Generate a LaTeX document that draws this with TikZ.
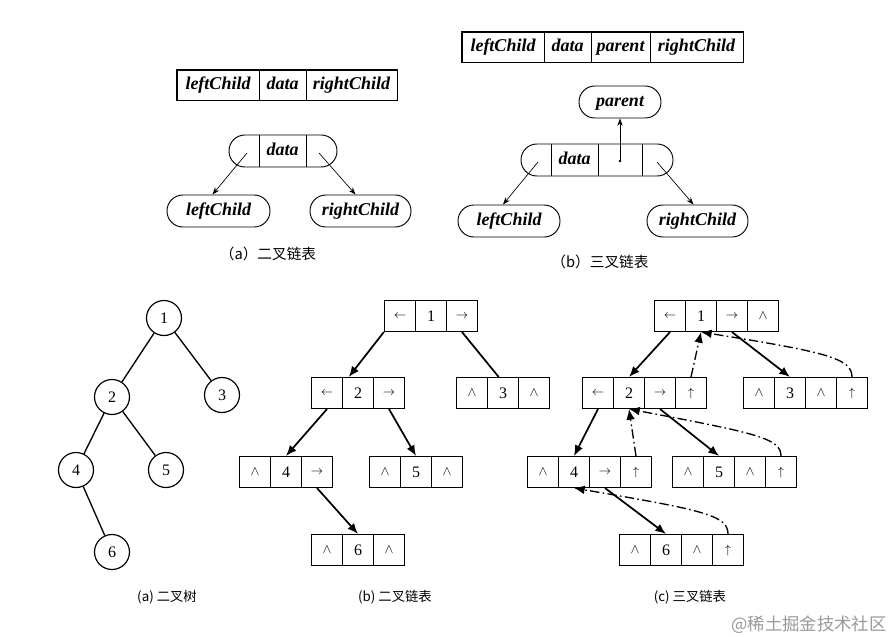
\documentclass[tikz,border=0pt]{standalone}
\usepackage{fontspec}
\setmainfont{Liberation Serif}
\newfontfamily\cjk{Noto Sans CJK SC}
\usetikzlibrary{arrows.meta,calc}
\newcommand{\symL}{{\fontsize{9}{10}\selectfont$\boldsymbol{\leftarrow}$}}
\newcommand{\symR}{{\fontsize{9}{10}\selectfont$\rightarrow$}}
\newcommand{\symN}{{\fontsize{10}{11}\selectfont$\wedge$}}
\newcommand{\symU}{{\fontsize{9}{10}\selectfont$\uparrow$}}
\renewcommand{\symL}{{\fontsize{9}{10}\selectfont$\leftarrow$}}
\begin{document}
\begin{tikzpicture}[x=0.75pt,y=-0.75pt,
  itxt/.style={font=\fontsize{13.5}{16}\selectfont\bfseries\itshape, text height=10pt, text depth=3pt},
  reccell/.style={draw, line width=0.7pt, minimum height=30*0.75pt, inner sep=0pt, itxt},
  capsule/.style={draw, rectangle, rounded corners=11.9pt, line width=0.7pt, minimum height=32*0.75pt, inner sep=0pt, itxt},
  captxt/.style={inner sep=0pt, font=\cjk\fontsize{11}{13}\selectfont},
  lcell/.style={draw, line width=0.8pt, minimum width=31.2*0.75pt, minimum height=31*0.75pt, inner sep=0pt, font=\fontsize{12}{14}\selectfont},
  tcirc/.style={draw, circle, line width=0.9pt, minimum size=35*0.75pt, inner sep=0pt, font=\fontsize{12}{14}\selectfont},
  thinarrow/.style={line width=0.5pt, -{Stealth[length=5.5pt,width=4pt]}},
  ptr/.style={line width=1.3pt, -{Latex[length=8pt,width=6.5pt]}},
  parentptr/.style={line width=1pt, dash pattern=on 7pt off 2.5pt on 1.2pt off 2.5pt, -{Latex[length=8pt,width=6.5pt]}},
  edge/.style={line width=1pt}
]
\useasboundingbox (0,0) rectangle (896,636);
\fill[white] (0,0) rectangle (896,636);

% ---------- top (a) ----------
\node[reccell, minimum width=82*0.75pt] (ar1) at (218,85) {leftChild};
\node[reccell, minimum width=47*0.75pt] (ar2) at (282.5,85) {data};
\node[reccell, minimum width=91*0.75pt] (ar3) at (351.5,85) {rightChild};
\draw[line width=1.1pt] (ar1.north west) rectangle (ar3.south east);

\node[capsule, minimum width=108*0.75pt] (ad) at (283,151) {};
\node[inner sep=0pt, itxt] (adt) at (282.5,151) {data};
\draw[line width=0.7pt] (259,135) -- (259,167);
\draw[line width=0.7pt] (306,135) -- (306,167);
\coordinate (adL) at (247,153);
\coordinate (adR) at (319,153);
\node[capsule, minimum width=103*0.75pt] (alc) at (218.5,211) {leftChild};
\node[capsule, minimum width=101*0.75pt] (arc) at (360.5,211) {rightChild};
\draw[thinarrow] (adL) -- ($(alc.north)+(-6,0)$);
\draw[thinarrow] (adR) -- ($(arc.north)+(-5,0)$);
\node[captxt] (capa) at (268,254) {（a）二叉链表};

% ---------- top (b) ----------
\node[reccell, minimum width=82*0.75pt] (br1) at (503,47) {leftChild};
\node[reccell, minimum width=47*0.75pt] (br2) at (567.5,47) {data};
\node[reccell, minimum width=59*0.75pt] (br3) at (620.5,47) {parent};
\node[reccell, minimum width=93*0.75pt] (br4) at (696.5,47) {rightChild};
\draw[line width=1.1pt] (br1.north west) rectangle (br4.south east);

\node[capsule, minimum width=82*0.75pt] (bpar) at (620,102) {parent};
\node[capsule, minimum width=152*0.75pt] (bd) at (597,160) {};
\node[inner sep=0pt, itxt] (bdt) at (574.5,160) {data};
\draw[line width=0.7pt] (551,144) -- (551,176);
\draw[line width=0.7pt] (598,144) -- (598,176);
\draw[line width=0.7pt] (642,144) -- (642,176);
\coordinate (bP) at (620,161);
\fill (bP) circle (1.3);
\draw[thinarrow] (bP) -- (bpar.south);
\coordinate (bdL) at (538,162);
\coordinate (bdR) at (657,162);
\node[capsule, minimum width=102*0.75pt] (blc) at (509,221) {leftChild};
\node[capsule, minimum width=101*0.75pt] (brc) at (697.5,221) {rightChild};
\draw[thinarrow] (bdL) -- ($(blc.north)+(-6,0)$);
\draw[thinarrow] (bdR) -- ($(brc.north)+(-4,0)$);
\node[captxt] (capb) at (600,262) {（b）三叉链表};

% ---------- bottom (a): tree ----------
\node[tcirc] (t1) at (164,318) {1};
\node[tcirc] (t2) at (112,397) {2};
\node[tcirc] (t3) at (222,395) {3};
\node[tcirc] (t4) at (76,470) {4};
\node[tcirc] (t5) at (166,470) {5};
\node[tcirc] (t6) at (112,552) {6};
\draw[edge] (t1) -- (t2);
\draw[edge] (t1) -- (t3);
\draw[edge] (t2) -- (t4);
\draw[edge] (t2) -- (t5);
\draw[edge] (t4) -- (t6);
\node[captxt, font=\cjk\fontsize{10}{12}\selectfont] (capta) at (167,597) {(a)\ 二叉树};

% ---------- bottom (b): binary linked list ----------
\foreach \n/\x/\t in {b1a/400/\symL, b1b/431/1, b1c/462/\symR} {\node[lcell] (\n) at (\x,316) {\t};}
\foreach \n/\x/\t in {b2a/327/\symL, b2b/358/2, b2c/389/\symR} {\node[lcell] (\n) at (\x,393) {\t};}
\foreach \n/\x/\t in {b3a/472/\symN, b3b/503/3, b3c/534/\symN} {\node[lcell] (\n) at (\x,393) {\t};}
\foreach \n/\x/\t in {b4a/255/\symN, b4b/286/4, b4c/317/\symR} {\node[lcell] (\n) at (\x,472) {\t};}
\foreach \n/\x/\t in {b5a/385/\symN, b5b/416/5, b5c/447/\symN} {\node[lcell] (\n) at (\x,472) {\t};}
\foreach \n/\x/\t in {b6a/327/\symN, b6b/358/6, b6c/389/\symN} {\node[lcell] (\n) at (\x,550) {\t};}
\draw[ptr] (b1a.south west) -- (b2b.120);
\draw[line width=1.3pt] (b1c.south) -- (b3b.105);
\draw[ptr] (b2a.south) -- (b4b.north);
\draw[ptr] (b2c.south) -- (b5b.north);
\draw[ptr] (b4c.south) -- (b6b.north);
\node[captxt, font=\cjk\fontsize{10}{12}\selectfont] (captb) at (395,597) {(b)\ 二叉链表};

% ---------- bottom (c): trinary linked list ----------
\foreach \n/\x/\t in {c1a/670/\symL, c1b/701/1, c1c/732/\symR, c1d/763/\symN} {\node[lcell] (\n) at (\x,316) {\t};}
\foreach \n/\x/\t in {c2a/598/\symL, c2b/629/2, c2c/660/\symR, c2d/691/\symU} {\node[lcell] (\n) at (\x,393) {\t};}
\foreach \n/\x/\t in {c3a/759/\symN, c3b/790/3, c3c/821/\symN, c3d/852/\symU} {\node[lcell] (\n) at (\x,393) {\t};}
\foreach \n/\x/\t in {c4a/543/\symN, c4b/574/4, c4c/605/\symR, c4d/636/\symU} {\node[lcell] (\n) at (\x,472) {\t};}
\foreach \n/\x/\t in {c5a/688/\symN, c5b/719/5, c5c/750/\symN, c5d/781/\symU} {\node[lcell] (\n) at (\x,472) {\t};}
\foreach \n/\x/\t in {c6a/635/\symN, c6b/666/6, c6c/697/\symN, c6d/728/\symU} {\node[lcell] (\n) at (\x,550) {\t};}
\draw[ptr] (c1a.south) -- (c2b.north);
\draw[ptr] (c1c.south) -- (c3b.north);
\draw[ptr] (c2a.south) -- (c4b.north);
\draw[ptr] (c2c.south) -- (c5b.north);
\draw[ptr] (c4c.south) -- (c6b.north);
\draw[parentptr] (c2d.north) -- (c1b.south);
\draw[parentptr] (c4d.north) -- (c2b.south);
\draw[parentptr] (c3d.north) .. controls (852,358) and (825,352) .. (c1b.south);
\draw[parentptr] (c5d.north) .. controls (781,438) and (755,433) .. (c2b.south);
\draw[parentptr] (c6d.north) .. controls (728,515) and (702,510) .. (c4b.south);
\node[captxt, font=\cjk\fontsize{10}{12}\selectfont] (captc) at (690,597) {(c)\ 三叉链表};

\node[inner sep=0pt, text=black!40, font=\cjk\fontsize{13}{15}\selectfont] (wm) at (809,625) {@稀土掘金技术社区};
\end{tikzpicture}
\end{document}
